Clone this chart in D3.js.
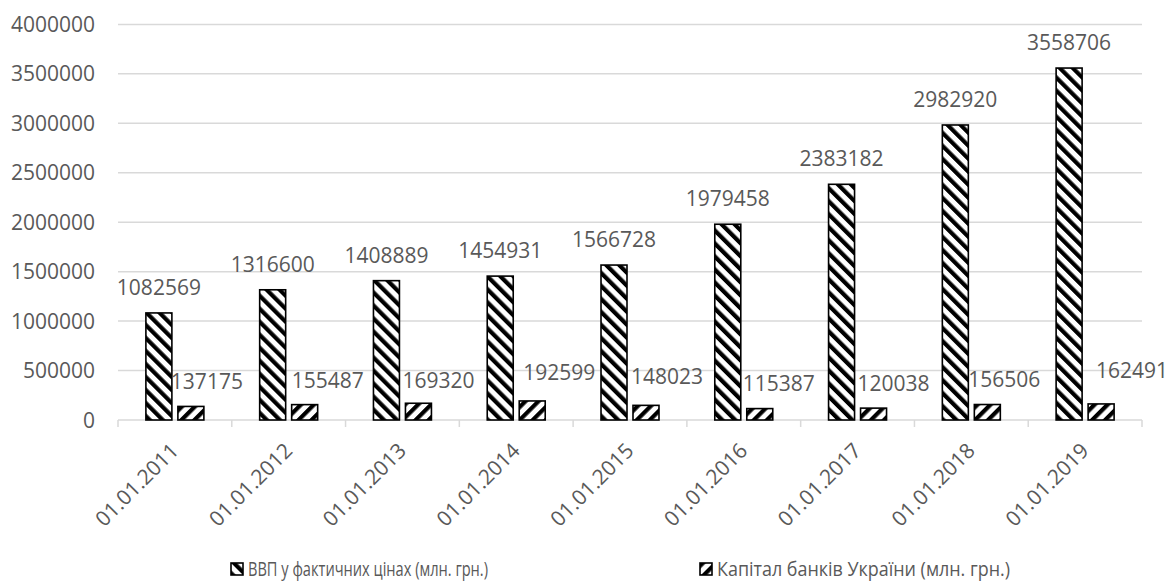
<!DOCTYPE html>
<html>
<head>
<meta charset="utf-8">
<script src="https://cdn.jsdelivr.net/npm/d3@7"></script>
<style>
  html, body { margin: 0; padding: 0; background: #fff; }
  svg { display: block; font-family: "Open Sans", sans-serif; }
</style>
</head>
<body>
<svg id="chart" width="1174" height="583"></svg>
<script>
// Categories (reporting dates)
const dates = ["01.01.2011", "01.01.2012", "01.01.2013", "01.01.2014", "01.01.2015",
               "01.01.2016", "01.01.2017", "01.01.2018", "01.01.2019"];
// GDP in current prices, UAH million
const gdp = [1082569, 1316600, 1408889, 1454931, 1566728, 1979458, 2383182, 2982920, 3558706];
// Bank capital of Ukraine, UAH million
const capital = [137175, 155487, 169320, 192599, 148023, 115387, 120038, 156506, 162491];
// Y axis ticks
const yTicks = [0, 500000, 1000000, 1500000, 2000000, 2500000, 3000000, 3500000, 4000000];
// Series names
const seriesNames = ["ВВП у фактичних цінах (млн. грн.)", "Капітал банків України (млн. грн.)"];

// Small manual nudges for the capital value labels (dx, dy in px)
const capLabelShift = [[16, -25], [23, -24], [20, -23], [27, -28], [21, -29],
                       [19, -25], [20, -25], [17, -25], [31, -33]];

const svg = d3.select("#chart");
const textColor = "#595959";
const gridColor = "#d9d9d9";

const plotLeft = 118, plotRight = 1142, plotTop = 24.4, plotBottom = 420;

const x0 = d3.scaleBand().domain(dates).range([plotLeft, plotRight]).paddingInner(0).paddingOuter(0);
const x1 = d3.scaleBand().domain(["gdp", "cap"]).range([0, x0.bandwidth()])
  .paddingInner(0.1875).paddingOuter(0.872);
const y = d3.scaleLinear().domain([0, 4000000]).range([plotBottom, plotTop]);

// Hatch patterns
const defs = svg.append("defs");
function hatch(id, angle) {
  const period = 9.2, ink = 4.2;
  const p = defs.append("pattern")
    .attr("id", id)
    .attr("patternUnits", "userSpaceOnUse")
    .attr("width", period).attr("height", period)
    .attr("patternTransform", `rotate(${angle})`);
  p.append("rect").attr("width", period).attr("height", period).attr("fill", "#fff");
  p.append("rect").attr("x", 0).attr("y", 0).attr("width", ink).attr("height", period).attr("fill", "#000");
}
hatch("hatchDown", -45);
hatch("hatchUp", 45);

// Gridlines and tick labels
const yAxisG = svg.append("g");
yAxisG.selectAll("line.grid")
  .data(yTicks.filter(d => d > 0))
  .join("line")
  .attr("class", "grid")
  .attr("x1", plotLeft).attr("x2", plotRight)
  .attr("y1", d => y(d)).attr("y2", d => y(d))
  .attr("stroke", gridColor).attr("stroke-width", 1.5);

yAxisG.selectAll("text")
  .data(yTicks)
  .join("text")
  .attr("x", 95)
  .attr("y", d => y(d) + 7.5)
  .attr("text-anchor", "end")
  .attr("fill", textColor)
  .attr("font-size", 21)
  .text(d => d3.format("d")(d));

// Category axis line and ticks
const xAxisG = svg.append("g");
xAxisG.append("line")
  .attr("x1", plotLeft).attr("x2", plotRight)
  .attr("y1", y(0)).attr("y2", y(0))
  .attr("stroke", gridColor).attr("stroke-width", 1.5);
const boundaries = dates.map(d => x0(d)).concat([x0(dates[dates.length - 1]) + x0.bandwidth()]);
xAxisG.selectAll("line.tick")
  .data(boundaries)
  .join("line")
  .attr("class", "tick")
  .attr("x1", d => d).attr("x2", d => d)
  .attr("y1", y(0)).attr("y2", y(0) + 7)
  .attr("stroke", gridColor).attr("stroke-width", 1.5);

xAxisG.selectAll("text")
  .data(dates)
  .join("text")
  .attr("transform", d => `translate(${x0(d) + x0.bandwidth() / 2 + 5},${y(0) + 32}) rotate(-45)`)
  .attr("text-anchor", "end")
  .attr("fill", textColor)
  .attr("font-size", 21)
  .text(d => d);

// Bars
const rows = dates.map((d, i) => ({ date: d, gdp: gdp[i], cap: capital[i], i }));
const barW = x1.bandwidth();

const bars = svg.append("g");
bars.selectAll("rect.gdp")
  .data(rows)
  .join("rect")
  .attr("class", "gdp")
  .attr("x", d => x0(d.date) + x1("gdp"))
  .attr("y", d => y(d.gdp))
  .attr("width", barW)
  .attr("height", d => y(0) - y(d.gdp))
  .attr("fill", "url(#hatchDown)")
  .attr("stroke", "#000").attr("stroke-width", 1.6);

bars.selectAll("rect.cap")
  .data(rows)
  .join("rect")
  .attr("class", "cap")
  .attr("x", d => x0(d.date) + x1("cap"))
  .attr("y", d => y(d.cap))
  .attr("width", barW)
  .attr("height", d => y(0) - y(d.cap))
  .attr("fill", "url(#hatchUp)")
  .attr("stroke", "#000").attr("stroke-width", 1.6);

// Value labels
const labels = svg.append("g").attr("fill", textColor).attr("font-size", 21).attr("text-anchor", "middle");
labels.selectAll("text.gdp")
  .data(rows)
  .join("text")
  .attr("class", "gdp")
  .attr("x", d => x0(d.date) + x1("gdp") + barW / 2)
  .attr("y", d => y(d.gdp) - 25.5 + 7.5)
  .text(d => d.gdp);

labels.selectAll("text.cap")
  .data(rows)
  .join("text")
  .attr("class", "cap")
  .attr("x", d => x0(d.date) + x1("cap") + barW / 2 + capLabelShift[d.i][0])
  .attr("y", d => y(d.cap) + capLabelShift[d.i][1] + 7.5)
  .text(d => d.cap);

// Legend (entries sit in equal-width slots; the first text is set a little condensed)
const legendItems = [
  { name: seriesNames[0], fill: "url(#hatchDown)", x: 231, len: 240 },
  { name: seriesNames[1], fill: "url(#hatchUp)", x: 700, len: 293 }
];
const legend = svg.append("g");
const lg = legend.selectAll("g").data(legendItems).join("g")
  .attr("transform", d => `translate(${d.x},563)`);
lg.append("rect")
  .attr("width", 12).attr("height", 12)
  .attr("fill", d => d.fill)
  .attr("stroke", "#000").attr("stroke-width", 1.6);
lg.append("text")
  .attr("x", 17).attr("y", 13)
  .attr("fill", textColor)
  .attr("font-size", 19.5)
  .attr("textLength", d => d.len)
  .attr("lengthAdjust", "spacingAndGlyphs")
  .text(d => d.name);
</script>
</body>
</html>
